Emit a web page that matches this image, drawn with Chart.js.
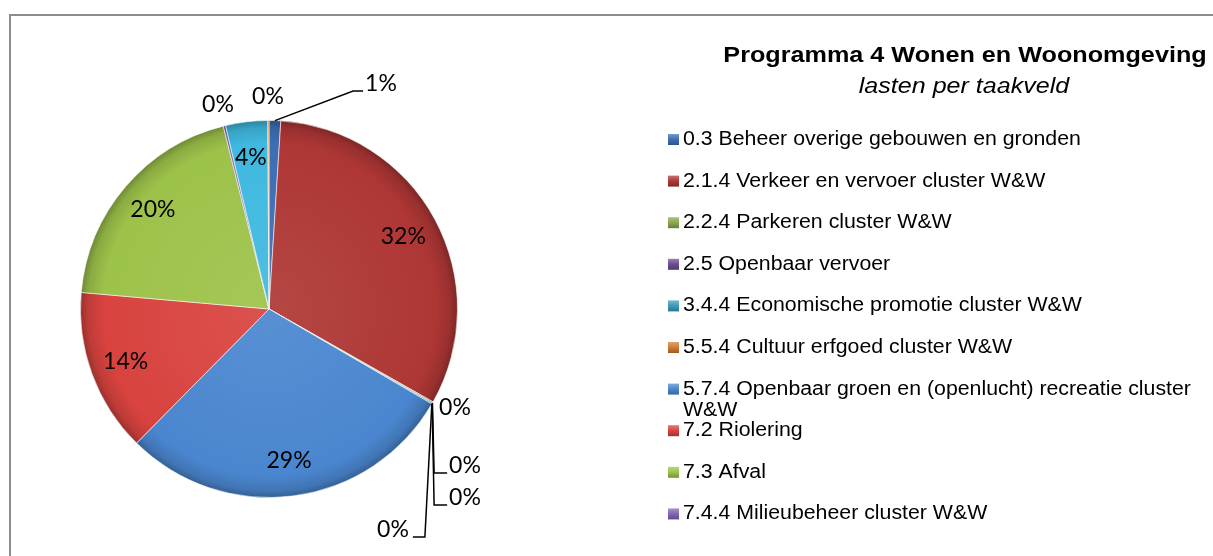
<!DOCTYPE html>
<html>
<head>
<meta charset="utf-8">
<script src="https://cdn.jsdelivr.net/npm/chart.js@4/dist/chart.umd.min.js"></script>
<style>
  html, body { margin: 0; padding: 0; background: #fff; }
  #wrap { width: 1213px; height: 556px; }
</style>
</head>
<body>
<div id="wrap"><canvas id="myChart" width="1213" height="556"></canvas></div>
<script>
// taakvelden (only the first 10 fit in the legend of the original)
const taakvelden = [
  '0.3 Beheer overige gebouwen en gronden',
  '2.1.4 Verkeer en vervoer cluster W&W',
  '2.2.4 Parkeren cluster W&W',
  '2.5 Openbaar vervoer',
  '3.4.4 Economische promotie cluster W&W',
  '5.5.4 Cultuur erfgoed cluster W&W',
  '5.7.4 Openbaar groen en (openlucht) recreatie cluster W&W',
  '7.2 Riolering',
  '7.3 Afval',
  '7.4.4 Milieubeheer cluster W&W',
  '8.1 Ruimtelijke ordening',
  '8.3 Wonen en bouwen'
];
// share of lasten (%)
const lasten = [1.0, 32.2, 0.1, 0.0, 0.1, 0.0, 29.0, 14.0, 19.7, 0.2, 3.6, 0.1];
const kleuren = ['#3C6EB4', '#AE3735', '#8BA74C', '#6B4E8E', '#3A9BB8', '#D07B30',
                 '#4A86CF', '#D8433F', '#9DC24A', '#8364B2', '#3FB9DF', '#F0963C'];
const legendCount = 10;
const titel = 'Programma 4 Wonen en Woonomgeving';
const subtitel = 'lasten per taakveld';

// where the small slices get their labels (offsets from the pie centre)
const labelPlace = {
  0:  { dx: 112, dy: -225, leader: 'left', len: 10 },
  11: { dx: -1,  dy: -212 },
  9:  { dx: -51, dy: -204 },
  2:  { dx: 186, dy: 99 },
  3:  { dx: 196, dy: 157, leader: 'left', len: 13 },
  4:  { dx: 196, dy: 189, leader: 'left', len: 13 },
  5:  { dx: 124, dy: 221, leader: 'right', len: 12 }
};

function shade(hex, amt) {
  const n = parseInt(hex.slice(1), 16);
  let r = n >> 16, g = (n >> 8) & 255, b = n & 255;
  const f = c => Math.max(0, Math.min(255, Math.round(amt < 0 ? c * (1 + amt) : c + (255 - c) * amt)));
  return 'rgb(' + f(r) + ',' + f(g) + ',' + f(b) + ')';
}

// text a bit wider than the font, like the original export
function wideText(c, txt, x, y, sx, align) {
  const w = c.measureText(txt).width * sx;
  let left = x;
  if (align === 'center') left = x - w / 2;
  c.save();
  c.translate(left, y);
  c.scale(sx, 1);
  c.textAlign = 'left';
  c.fillText(txt, 0, 0);
  c.restore();
}

const frame = {
  id: 'frame',
  beforeDraw(chart) {
    const c = chart.ctx;
    c.save();
    c.fillStyle = '#fff';
    c.fillRect(0, 0, chart.width, chart.height);
    c.strokeStyle = '#8c8c8c';
    c.lineWidth = 2;
    c.strokeRect(10, 15, 1400, 700);
    c.restore();
  }
};

const sliceLabels = {
  id: 'sliceLabels',
  afterDatasetsDraw(chart) {
    const c = chart.ctx;
    const meta = chart.getDatasetMeta(0);
    const total = lasten.reduce((a, b) => a + b, 0);
    c.save();
    c.font = '23px Lato';
    c.fillStyle = '#000';
    c.strokeStyle = '#000';
    c.lineWidth = 1.5;
    c.textAlign = 'center';
    c.textBaseline = 'middle';
    meta.data.forEach((arc, i) => {
      const p = arc.getProps(['x', 'y', 'startAngle', 'endAngle', 'outerRadius'], true);
      const mid = (p.startAngle + p.endAngle) / 2;
      const txt = Math.round(lasten[i] / total * 100) + '%';
      const place = labelPlace[i];
      if (!place) {
        const r = p.outerRadius * 0.81;
        c.fillText(txt, p.x + Math.cos(mid) * r, p.y + Math.sin(mid) * r);
        return;
      }
      const tx = p.x + place.dx, ty = p.y + place.dy;
      c.fillText(txt, tx, ty);
      if (place.leader) {
        const w = c.measureText(txt).width;
        const ax = p.x + Math.cos(mid) * p.outerRadius;
        const ay = p.y + Math.sin(mid) * p.outerRadius;
        const ly = ty + 7;
        let x1, x2;
        if (place.leader === 'left') { x1 = tx - w / 2 - 2; x2 = x1 - place.len; }
        else { x1 = tx + w / 2 + 4; x2 = x1 + place.len; }
        c.beginPath();
        c.moveTo(ax, ay);
        c.lineTo(x2, ly);
        c.lineTo(x1, ly);
        c.stroke();
      }
    });
    c.restore();
  }
};

function wrapText(c, text, maxW, sx) {
  const words = text.split(' ');
  const lines = [];
  let line = '';
  words.forEach(w => {
    const t = line ? line + ' ' + w : w;
    if (c.measureText(t).width * sx > maxW && line) { lines.push(line); line = w; }
    else line = t;
  });
  lines.push(line);
  return lines;
}

const sideLegend = {
  id: 'sideLegend',
  afterDraw(chart) {
    const c = chart.ctx;
    c.save();
    c.fillStyle = '#000';
    c.textBaseline = 'middle';
    c.font = 'bold 22px "Liberation Sans", Arial';
    wideText(c, titel, 965, 56, 1.145, 'center');
    c.font = 'italic 22px "Liberation Sans", Arial';
    wideText(c, subtitel, 964, 87, 1.14, 'center');

    c.font = '20px "Liberation Sans", Arial';
    for (let i = 0; i < legendCount; i++) {
      const y = 139.5 + i * 41.6;
      const col = kleuren[i];
      const g = c.createLinearGradient(0, y - 5.5, 0, y + 5.5);
      g.addColorStop(0, shade(col, 0.3));
      g.addColorStop(0.5, col);
      g.addColorStop(1, shade(col, -0.25));
      c.fillStyle = g;
      c.fillRect(668, y - 5.5, 11, 11);
      c.fillStyle = '#000';
      const lines = wrapText(c, taakvelden[i], 530, 1.065);
      lines.forEach((l, k) => wideText(c, l, 683, y + k * 21, 1.065, 'left'));
    }
    c.restore();
  }
};

new Chart(document.getElementById('myChart'), {
  type: 'pie',
  data: {
    labels: taakvelden,
    datasets: [{
      data: lasten,
      backgroundColor: ctx => {
        const col = kleuren[ctx.dataIndex];
        const area = ctx.chart.chartArea;
        if (!area) return col;
        const cx = (area.left + area.right) / 2, cy = (area.top + area.bottom) / 2;
        const r = Math.min(area.width, area.height) / 2;
        const g = ctx.chart.ctx.createRadialGradient(cx, cy, 0, cx, cy, r);
        g.addColorStop(0, shade(col, 0.08));
        g.addColorStop(0.88, col);
        g.addColorStop(0.96, shade(col, -0.12));
        g.addColorStop(1, shade(col, -0.3));
        return g;
      },
      borderColor: 'rgba(255,255,255,0.55)',
      borderWidth: 1
    }]
  },
  options: {
    responsive: false,
    animation: false,
    layout: { padding: { left: 80, right: 755, top: 120, bottom: 58 } },
    plugins: {
      legend: { display: false },
      title: { display: false },
      tooltip: { enabled: false }
    }
  },
  plugins: [frame, sliceLabels, sideLegend]
});
</script>
</body>
</html>
